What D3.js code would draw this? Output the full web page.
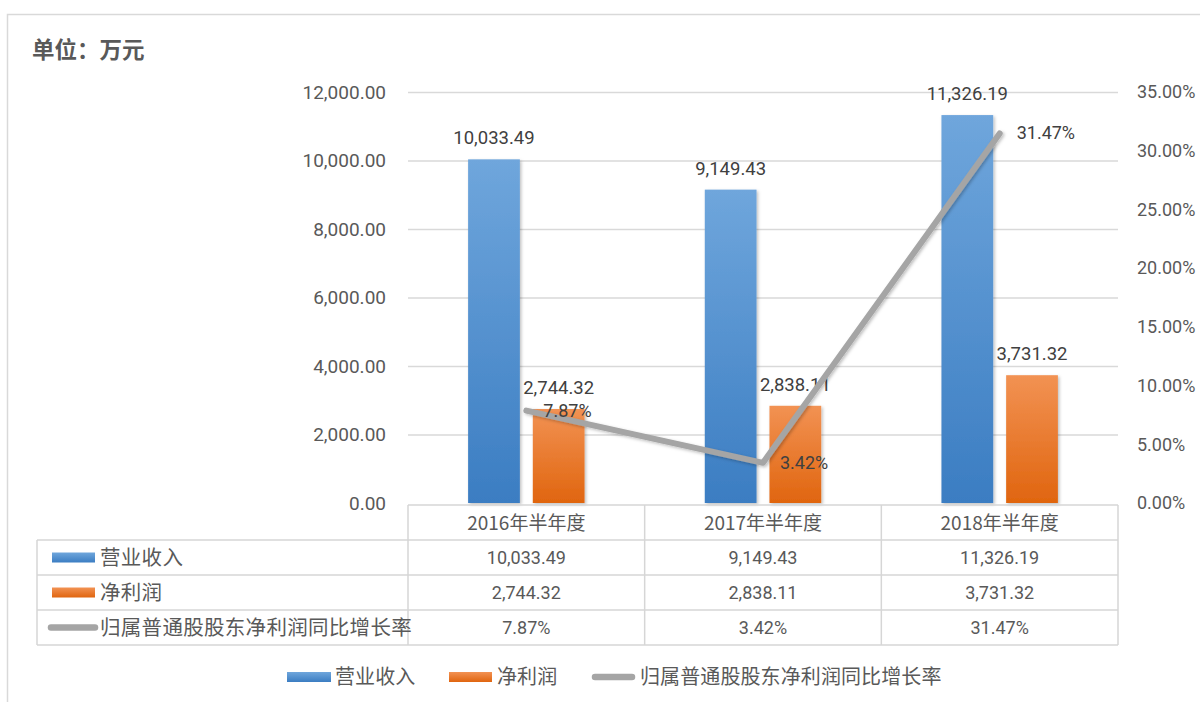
<!DOCTYPE html>
<html><head><meta charset="utf-8">
<script src="https://cdn.jsdelivr.net/npm/d3@7"></script>
<style>
html,body{margin:0;padding:0;background:#fff;}
text{font-family:Roboto,"Noto Sans CJK SC",sans-serif;}
.cjk{font-family:"Noto Sans CJK SC",sans-serif;}
</style></head>
<body>
<svg id="chart" width="1200" height="702"></svg>
<script>
const categories = ["2016年半年度", "2017年半年度", "2018年半年度"];
const seriesNames = ["营业收入", "净利润", "归属普通股股东净利润同比增长率"];
const revenue = [10033.49, 9149.43, 11326.19];
const netProfit = [2744.32, 2838.11, 3731.32];
const growth = [7.87, 3.42, 31.47];
const leftTicks = [0, 2000, 4000, 6000, 8000, 10000, 12000];
const rightTicks = [0, 5, 10, 15, 20, 25, 30, 35];
const title = "单位：万元";

const svg = d3.select("#chart");
const fmt = d3.format(",.2f");
const pct = v => v.toFixed(2) + "%";
const txt = "#595959";
const grid = "#d9d9d9";

// defs
const defs = svg.append("defs");
function grad(id, c1, c2){
  const g = defs.append("linearGradient").attr("id", id).attr("x1",0).attr("y1",0).attr("x2",0).attr("y2",1);
  g.append("stop").attr("offset","0%").attr("stop-color",c1);
  g.append("stop").attr("offset","100%").attr("stop-color",c2);
}
grad("gBlue", "#6fa6dc", "#3b7dc2");
grad("gOrange", "#f29253", "#e0650f");
const f = defs.append("filter").attr("id","shadow").attr("x","-20%").attr("y","-20%").attr("width","140%").attr("height","140%");
f.append("feDropShadow").attr("dx",1.5).attr("dy",1.5).attr("stdDeviation",1.5).attr("flood-color","#000").attr("flood-opacity",0.25);

// frame
svg.append("path").attr("d","M7.5,710 L7.5,14.5 L1210,14.5").attr("fill","none").attr("stroke","#d9d9d9").attr("stroke-width",1.5);

svg.append("text").attr("class","cjk").attr("x",32).attr("y",58).attr("font-size",22.5).attr("font-weight","bold").attr("fill",txt).text(title);

// scales
const x0 = 408, x1 = 1118, yTop = 92, yBot = 503;
const x = d3.scaleBand().domain(categories).range([x0, x1]).paddingInner(0).paddingOuter(0);
const bw = x.bandwidth();
const xs = d3.scaleBand().domain(seriesNames.slice(0,2)).range([bw*0.254, bw*0.746]).paddingInner(0.2);
const yL = d3.scaleLinear().domain([0, 12000]).range([yBot, yTop]);
const yR = d3.scaleLinear().domain([0, 35]).range([yBot, yTop]);

// gridlines
svg.append("g").selectAll("line").data(leftTicks.filter(d=>d>0)).join("line")
  .attr("x1",x0).attr("x2",x1).attr("y1",d=>yL(d)+0.5).attr("y2",d=>yL(d)+0.5)
  .attr("stroke",grid).attr("stroke-width",1.3);

// left axis
const axL = d3.axisLeft(yL).tickValues(leftTicks).tickFormat(fmt).tickSize(0).tickPadding(0);
const gL = svg.append("g").attr("transform",`translate(386,0)`).call(axL);
gL.select(".domain").remove();
gL.selectAll("text").attr("font-size",19).attr("fill",txt).attr("font-family","Roboto");

// right axis
const axR = d3.axisRight(yR).tickValues(rightTicks).tickFormat(d=>d.toFixed(2)+"%").tickSize(0).tickPadding(0);
const gR = svg.append("g").attr("transform",`translate(1137,0)`).call(axR);
gR.select(".domain").remove();
gR.selectAll("text").attr("font-size",18).attr("fill",txt).attr("font-family","Roboto");

// bars
const barData = [];
categories.forEach((c,i)=>{
  barData.push({c, s: seriesNames[0], v: revenue[i], fill:"url(#gBlue)"});
  barData.push({c, s: seriesNames[1], v: netProfit[i], fill:"url(#gOrange)"});
});
svg.append("g").selectAll("rect").data(barData).join("rect")
  .attr("x",d=>x(d.c)+xs(d.s)).attr("width",xs.bandwidth())
  .attr("y",d=>yL(d.v)).attr("height",d=>yBot-yL(d.v))
  .attr("fill",d=>d.fill).attr("filter","url(#shadow)");

// bar labels
svg.append("g").selectAll("text").data(barData).join("text")
  .attr("x",d=>x(d.c)+xs(d.s)+xs.bandwidth()/2).attr("y",d=>yL(d.v)-15)
  .attr("text-anchor","middle").attr("font-size",18.5).attr("fill","#404040")
  .text(d=>fmt(d.v));

// line
const lineData = categories.map((c,i)=>({c, v: growth[i]}));
const line = d3.line().x(d=>x(d.c)+bw/2).y(d=>yR(d.v));
svg.append("path").datum(lineData).attr("d",line).attr("fill","none")
  .attr("stroke","#a5a5a5").attr("stroke-width",6).attr("stroke-linecap","round").attr("stroke-linejoin","round")
  .attr("filter","url(#shadow)");
svg.append("g").selectAll("text").data(lineData).join("text")
  .attr("x",d=>x(d.c)+bw/2+17).attr("y",d=>yR(d.v)+6)
  .attr("font-size",18).attr("fill","#404040").text(d=>pct(d.v));

// table
const tb = svg.append("g");
const rowTop = 505, rowH = 35;
const tl = "#d6d6d6", tw = 1.5;
const rowsY = [rowTop, rowTop+rowH, rowTop+2*rowH, rowTop+3*rowH, rowTop+4*rowH];
tb.append("line").attr("x1",x0).attr("x2",x1).attr("y1",rowsY[0]).attr("y2",rowsY[0]).attr("stroke",tl).attr("stroke-width",tw);
rowsY.slice(1).forEach(y=>{
  tb.append("line").attr("x1",37).attr("x2",x1).attr("y1",y).attr("y2",y).attr("stroke",tl).attr("stroke-width",tw);
});
tb.append("line").attr("x1",37).attr("x2",37).attr("y1",rowsY[1]).attr("y2",rowsY[4]).attr("stroke",tl).attr("stroke-width",tw);
[x0, ...categories.map(c=>x(c)+bw)].forEach(xx=>{
  tb.append("line").attr("x1",xx).attr("x2",xx).attr("y1",rowsY[0]).attr("y2",rowsY[4]).attr("stroke",tl).attr("stroke-width",tw);
});
tb.selectAll("text.hdr").data(categories).join("text").attr("class","hdr cjk")
  .attr("x",c=>x(c)+bw/2).attr("y",rowsY[0]+rowH/2+7).attr("text-anchor","middle")
  .attr("font-size",19).attr("fill",txt).text(c=>c);
const tableVals = [revenue.map(fmt), netProfit.map(fmt), growth.map(pct)];
tableVals.forEach((vals,r)=>{
  const cy = rowsY[r+1]+rowH/2;
  vals.forEach((v,i)=>{
    tb.append("text").attr("x",x(categories[i])+bw/2).attr("y",cy+6.5).attr("text-anchor","middle")
      .attr("font-size",18).attr("fill",txt).text(v);
  });
  tb.append("text").attr("class","cjk").attr("x",100).attr("y",cy+7).attr("font-size",20.5)
    .attr("letter-spacing",0.3).attr("fill",txt).text(seriesNames[r]);
});
function swatch(g, r, xa, xb, cy){
  if(r<2){
    g.append("rect").attr("x",xa).attr("y",cy-5).attr("width",xb-xa).attr("height",10)
      .attr("fill",r===0?"url(#gBlue)":"url(#gOrange)");
  } else {
    g.append("line").attr("x1",xa+3).attr("x2",xb-3).attr("y1",cy).attr("y2",cy)
      .attr("stroke","#a5a5a5").attr("stroke-width",6.5).attr("stroke-linecap","round");
  }
}
[0,1,2].forEach(r=>swatch(tb, r, r<2?52:48, r<2?95:98, rowsY[r+1]+rowH/2));

// legend
const lg = svg.append("g");
const legX = [[287,331,335],[449,492,497],[592,635,640]];
seriesNames.forEach((s,r)=>{
  swatch(lg, r, legX[r][0], legX[r][1], 677);
  lg.append("text").attr("class","cjk").attr("x",legX[r][2]).attr("y",684).attr("font-size",20)
    .attr("letter-spacing",0.1).attr("fill",txt).text(s);
});
</script>
</body></html>
